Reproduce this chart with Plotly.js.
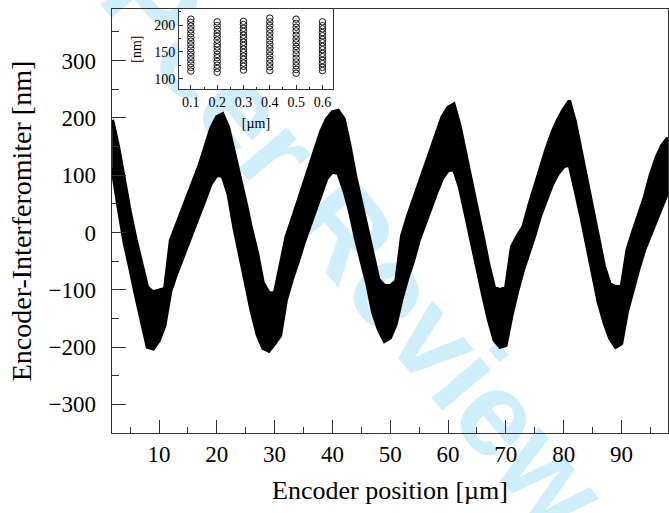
<!DOCTYPE html>
<html>
<head>
<meta charset="utf-8">
<script src="https://cdn.plot.ly/plotly-3.0.1.min.js"></script>
<style>html,body{margin:0;padding:0;background:#fff;}#chart{width:669px;height:513px;}</style>
</head>
<body>
<div id="chart"></div>
<script>
// Main trace envelope (x in µm, band upper / lower edge in nm)
const posX = [1.9,2,3,4,5,6,7,8,9,10,11,12,13,14,15,16,17,18,19,20,21,22,23,24,25,26,27,28,29,30,
  31,32,33,34,35,36,37,38,39,40,41,42,43,44,45,46,47,48,49,50,51,52,53,54,55,56,57,58,59,60,
  61,62,63,64,65,66,67,68,69,70,71,72,73,74,75,76,77,78,79,80,81,82,83,84,85,86,87,88,89,90,
  91,92,93,94,95,96,97,98];
const upperNm = [196,194,148,88,36,-12,-55,-96,-104,-101,-98,-14,12,38,63,90,118,150,182,202,207,184,142,100,53,6,-35,-88,-105,-106,
  -55,-8,22,52,82,112,146,176,198,210,213,198,152,98,53,8,-35,-82,-93,-93,-85,-6,28,57,85,114,144,176,202,218,
  224,188,142,93,43,-4,-55,-96,-100,-96,-25,-6,10,47,80,114,146,174,197,215,230,193,144,94,43,-8,-58,-90,-95,-94,
  -30,2,32,62,100,130,152,165];
const lowerNm = [112,106,42,-18,-63,-111,-157,-200,-203,-189,-162,-103,-73,-46,-20,6,32,58,85,100,98,66,8,-43,-90,-138,-178,-202,-207,-194,
  -180,-118,-83,-53,-20,10,38,66,94,106,103,74,37,-10,-50,-90,-140,-170,-190,-184,-160,-116,-80,-50,-13,17,43,69,94,108,
  110,79,33,-18,-63,-108,-152,-188,-200,-197,-146,-103,-66,-36,-5,30,58,83,102,115,118,74,28,-21,-70,-121,-157,-185,-200,-194,
  -138,-98,-63,-30,-5,20,45,70];

// Inset: positions [µm] and measured values [nm]
const insetPos = [0.1,0.2,0.3,0.4,0.5,0.6];
const inset01 = [114,121,128,135,142,149,156,163,170,177,184,191,198,205,211];
const inset02 = [112,119,125,132,139,145,152,159,165,172,179,185,192,199,206];
const inset03 = [116,123,129,136,142,149,155,162,168,175,181,188,194,201,207];
const inset04 = [115,122,129,136,143,150,157,164,171,178,185,192,199,206,213];
const inset05 = [110,117,124,131,138,146,153,160,167,174,181,189,196,203,211];
const inset06 = [115,121,128,134,141,147,154,160,167,173,180,186,193,199,206];
const insetCols = [inset01,inset02,inset03,inset04,inset05,inset06];

const xTicks = [10,20,30,40,50,60,70,80,90];
const yTicks = [-300,-200,-100,0,100,200,300];

// band polygon: upper edge left->right, lower edge right->left
const bandX = posX.concat(posX.slice().reverse());
const bandY = upperNm.concat(lowerNm.slice().reverse());

const ix = [], iy = [];
insetCols.forEach((col, k) => col.forEach(v => { ix.push(insetPos[k]); iy.push(v); }));

const serif = '"Liberation Serif", "Times New Roman", serif';
const axCol = '#333';

const traces = [
  {x: bandX, y: bandY, type: 'scatter', mode: 'lines', fill: 'toself',
   fillcolor: '#000', line: {color: '#000', width: 3.5}, hoverinfo: 'skip', xaxis: 'x', yaxis: 'y'},
  {x: ix, y: iy, type: 'scatter', mode: 'markers', xaxis: 'x2', yaxis: 'y2',
   marker: {symbol: 'circle-open', size: 6.5, color: '#000', line: {width: 0.9, color: '#000'}}}
];

const layout = {
  width: 669, height: 513,
  margin: {l: 112, r: 1, t: 9, b: 80},
  paper_bgcolor: '#fff', plot_bgcolor: '#fff',
  showlegend: false,
  font: {family: serif, color: '#000'},
  xaxis: {
    domain: [0, 1], range: [1.87, 98.05],
    tickvals: xTicks, ticks: 'inside', ticklen: 13, tickwidth: 1, tickcolor: axCol,
    minor: {dtick: 5, tick0: 0, ticks: 'inside', ticklen: 6, tickwidth: 1, tickcolor: axCol},
    showline: true, linecolor: axCol, linewidth: 1.3, mirror: true,
    showgrid: false, zeroline: false,
    tickfont: {size: 23, family: serif, color: '#000'},
    title: {text: 'Encoder position [µm]', font: {size: 26, family: serif, color: '#000'}, standoff: 15}
  },
  yaxis: {
    domain: [0, 1], range: [-350, 390],
    tickvals: yTicks, ticks: 'inside', ticklen: 14, tickwidth: 1, tickcolor: axCol,
    minor: {dtick: 50, tick0: 0, ticks: 'inside', ticklen: 7, tickwidth: 1, tickcolor: axCol},
    showline: true, linecolor: axCol, linewidth: 1.3, mirror: true,
    showgrid: false, zeroline: false,
    tickfont: {size: 23, family: serif, color: '#000'},
    ticklabelstandoff: 10,
    title: {text: 'Encoder-Interferomiter [nm]', font: {size: 28, family: serif, color: '#000'}, standoff: 8}
  },
  xaxis2: {
    domain: [0.1205, 0.3975], anchor: 'y2', range: [0.055, 0.64],
    tickvals: insetPos, ticktext: ['0.1','0.2','0.3','0.4','0.5','0.6'],
    ticks: 'inside', ticklen: 4, tickwidth: 1, tickcolor: axCol,
    minor: {dtick: 0.05, tick0: 0, ticks: 'inside', ticklen: 2.5, tickwidth: 1, tickcolor: axCol},
    showline: true, linecolor: axCol, linewidth: 1, mirror: true,
    showgrid: false, zeroline: false,
    tickfont: {size: 14, family: serif, color: '#000'},
    title: {text: '[µm]', font: {size: 14, family: serif, color: '#000'}, standoff: 9}
  },
  yaxis2: {
    domain: [0.8106, 1], anchor: 'x2', range: [80, 230],
    tickvals: [100,150,200], ticks: 'inside', ticklen: 4, tickwidth: 1, tickcolor: axCol,
    minor: {dtick: 25, tick0: 0, ticks: 'inside', ticklen: 2.5, tickwidth: 1, tickcolor: axCol},
    showline: true, linecolor: axCol, linewidth: 1, mirror: true,
    showgrid: false, zeroline: false,
    tickfont: {size: 14, family: serif, color: '#000'},
    title: {text: '[nm]', font: {size: 14, family: serif, color: '#000'}, standoff: 9}
  },
  shapes: [{
    type: 'line', xref: 'paper', yref: 'paper', layer: 'below',
    x0: -0.0756, y0: 1.033, x1: 0.7877, y1: -0.3113,
    line: {color: 'rgba(0,0,0,0)', width: 0},
    label: {text: '<b>Peer Review</b>', textangle: 'auto', textposition: 'middle',
            font: {size: 120, family: '"Liberation Sans", Arial, sans-serif', color: '#cfeefc'}}
  }]
};

Plotly.newPlot('chart', traces, layout, {displayModeBar: false, staticPlot: true});
</script>
</body>
</html>
